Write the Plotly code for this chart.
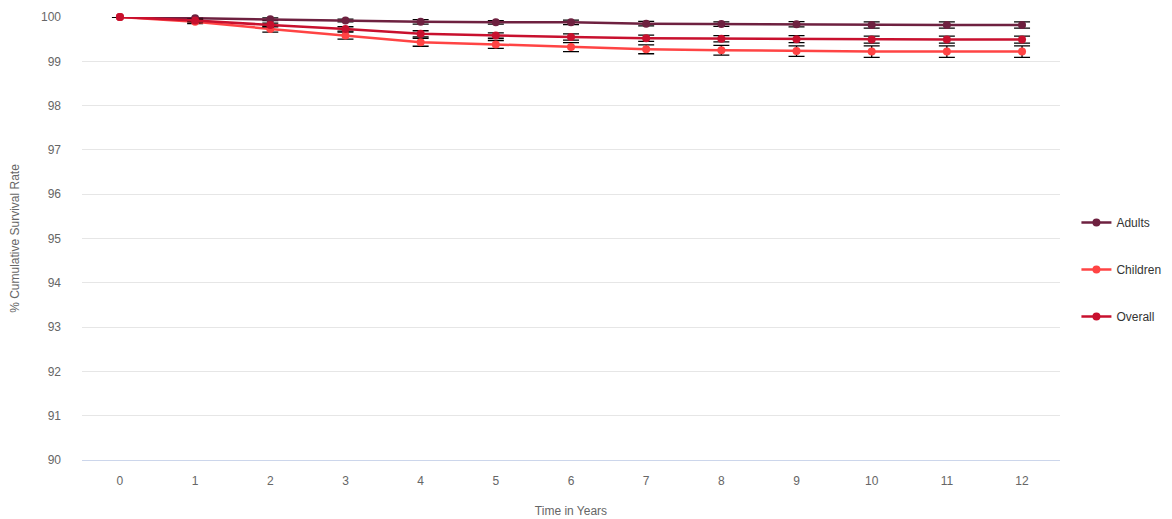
import plotly.graph_objects as go

years = list(range(13))
adults = [100, 99.97, 99.95, 99.92, 99.89, 99.88, 99.88, 99.85, 99.84, 99.835, 99.82, 99.82, 99.82]
children = [100, 99.89, 99.73, 99.58, 99.43, 99.38, 99.32, 99.27, 99.25, 99.23, 99.22, 99.22, 99.22]
overall = [100, 99.92, 99.82, 99.73, 99.62, 99.58, 99.55, 99.52, 99.51, 99.50, 99.49, 99.49, 99.49]
adults_err = [0, 0.02, 0.03, 0.03, 0.05, 0.04, 0.05, 0.05, 0.05, 0.06, 0.07, 0.07, 0.07]
children_err = [0, 0.04, 0.07, 0.08, 0.09, 0.09, 0.10, 0.10, 0.11, 0.12, 0.13, 0.13, 0.13]
overall_err = [0, 0.03, 0.04, 0.05, 0.07, 0.06, 0.07, 0.07, 0.07, 0.08, 0.08, 0.08, 0.08]
y_ticks = [90, 91, 92, 93, 94, 95, 96, 97, 98, 99, 100]

series = [
    ("Adults", adults, adults_err, "#6e2140"),
    ("Children", children, children_err, "#ff4444"),
    ("Overall", overall, overall_err, "#c8102e"),
]

fig = go.Figure()
for i, (name, vals, err, color) in enumerate(series):
    fig.add_trace(go.Scatter(
        x=years, y=vals, name=name, mode="lines+markers",
        line=dict(color=color, width=2.5),
        marker=dict(color=color, size=8),
        error_y=dict(type="data", array=err, visible=True, color="#000000",
                     thickness=1.3, width=8),
        legendgroup=name, cliponaxis=False,
    ))

fig.update_layout(
    width=1164, height=511,
    margin=dict(l=74, r=112, t=9, b=59, autoexpand=False),
    paper_bgcolor="white", plot_bgcolor="white",
    font=dict(family="Liberation Sans, Arial, sans-serif", color="#666666", size=12),
    showlegend=True,
    legend=dict(x=1.0168, xanchor="left", y=0.43, yanchor="middle",
                tracegroupgap=28, font=dict(size=12, color="#333333"),
                itemwidth=30),
    xaxis=dict(range=[-0.505, 12.505], tickvals=years, showgrid=False, automargin=False,
               showline=True, linecolor="#ccd6eb", linewidth=1, ticks="",
               ticklabelstandoff=10, tickfont=dict(size=12, color="#666666"),
               title=dict(text="Time in Years", font=dict(size=12, color="#666666"), standoff=19),
               zeroline=False, fixedrange=True),
    yaxis=dict(range=[90, 100], tickvals=y_ticks, showgrid=True, gridcolor="#e6e6e6", automargin=False,
               gridwidth=1, ticks="", ticklabelstandoff=20,
               tickfont=dict(size=12, color="#666666"),
               title=dict(text="% Cumulative Survival Rate", font=dict(size=12, color="#666666"), standoff=25),
               zeroline=False, fixedrange=True),
)

fig.write_html("out.html")
